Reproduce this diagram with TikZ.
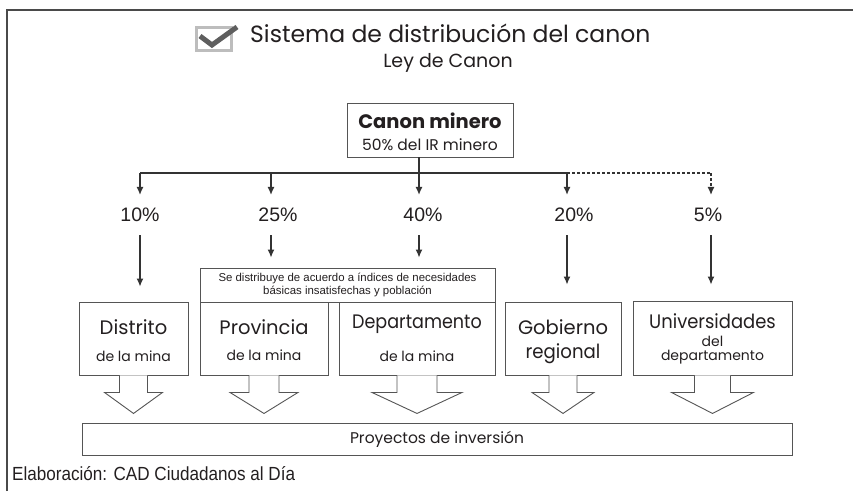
\documentclass[tikz,border=0pt]{standalone}
\usepackage{fontspec}
\setmainfont{Poppins}
\newfontfamily\geo{Poppins}
\newfontfamily\hel{Liberation Sans}
\newfontfamily\condf[FakeStretch=0.9]{Liberation Sans}
\usetikzlibrary{arrows.meta}
\definecolor{txt}{HTML}{231F20}
\definecolor{linec}{HTML}{555555}
\definecolor{framec}{HTML}{4A4A4A}
\definecolor{arrc}{HTML}{333333}
\definecolor{chkbox}{HTML}{BDBDBD}
\definecolor{chkmark}{HTML}{5E5E5E}
\newcommand\blockarr[3]{\draw[blk] ([xshift=-#2pt]#1.south) -- ++(0,17) -- ++(#2-#3,0) -- ++(#3,21) -- ++(#3,-21) -- ++(#2-#3,0) -- ++(0,-17);}
\begin{document}
\begin{tikzpicture}[x=1pt,y=-1pt,
  box/.style={draw=linec, line width=0.9pt, fill=white, inner sep=0pt},
  ln/.style={draw=arrc, line width=1.1pt},
  arr/.style={draw=arrc, line width=1.3pt, -{Latex[length=8pt,width=7pt]}},
  blk/.style={draw=linec, line width=0.9pt, fill=white},
  pct/.style={font=\hel\fontsize{19.5}{22}\selectfont, text=txt, inner sep=0pt},
  big/.style={font=\geo\fontsize{19.5}{22}\selectfont, text=txt, inner sep=0pt},
  small/.style={font=\geo\fontsize{14}{16}\selectfont, text=txt, inner sep=0pt},
  every node/.append style={text=txt}
]
\useasboundingbox (0,0) rectangle (853,491);
\fill[white] (0,0) rectangle (853,491);
% frame
\draw[draw=framec, line width=2pt] (7,491) -- (7,10) -- (853,10);
% checkbox icon
\draw[draw=chkbox, line width=3.5pt] (196.5,27.5) rectangle (231.5,50.5);
\draw[draw=chkmark, line width=5pt, line join=miter] (200,36) -- (212,45) -- (237,27);
% title
\node[font=\geo\fontsize{23.5}{27}\selectfont, anchor=west, inner sep=0pt] (title) at (250,33) {Sistema de distribución del canon};
\node[font=\geo\fontsize{19}{22}\selectfont, inner sep=0pt] (ley) at (448,63) {Ley de Canon};
% canon minero
\node[box, minimum width=166pt, minimum height=54pt] (canon) at (430,130) {};
\node[font=\geo\bfseries\fontsize{19.5}{22}\selectfont, inner sep=0pt] (canonT) at (430,121) {Canon minero};
\node[font=\geo\fontsize{15.5}{18}\selectfont, inner sep=0pt] (canonS) at (430,145) {50\% del IR minero};
% bus
\coordinate (b1) at (140,173);
\coordinate (b2) at (271,173);
\coordinate (b3) at (419,173);
\coordinate (b4) at (567,173);
\coordinate (b5) at (711,173);
\draw[ln] ([xshift=-11pt]canon.south) -- (b3);
\draw[ln] (b1) -- (b4);
\draw[ln, dashed, dash pattern=on 3pt off 2pt] (b4) -- (b5);
% percentages
\node[pct] (p10) at (140,215) {10\%};
\node[pct] (p25) at (278,215) {25\%};
\node[pct] (p40) at (423,215) {40\%};
\node[pct] (p20) at (574,215) {20\%};
\node[pct] (p5) at (708,215) {5\%};
% boxes
\node[box, minimum width=295pt, minimum height=34pt, align=center, font=\hel\fontsize{11.4}{13.5}\selectfont] (sed) at (347.5,285) {Se distribuye de acuerdo a índices de necesidades\\básicas insatisfechas y población};
\node[box, minimum width=109pt, minimum height=73pt] (dis) at (133.5,338.5) {};
\node[box, minimum width=128pt, minimum height=73pt] (pro) at (264,338.5) {};
\node[box, minimum width=156pt, minimum height=73pt] (dep) at (417,338.5) {};
\node[box, minimum width=116pt, minimum height=73pt] (gob) at (563,338.5) {};
\node[box, minimum width=159pt, minimum height=74pt] (uni) at (712.5,338) {};
% top arrows
\draw[arr, shorten >=13pt] (b1) -- (b1 |- p10.north);
\draw[arr, shorten >=13pt] (b2) -- (b2 |- p25.north);
\draw[arr, shorten >=13pt] (b3) -- (b3 |- p40.north);
\draw[arr, shorten >=13pt] (b4) -- (b4 |- p20.north);
\draw[arr, shorten >=13pt, dash pattern=on 3pt off 2pt] (b5) -- (b5 |- p5.north);
% lower arrows
\draw[arr, shorten <=13pt, shorten >=15pt] (b1 |- p10.south) -- (b1 |- dis.north);
\draw[arr, shorten <=13pt, shorten >=10pt] (b2 |- p25.south) -- (b2 |- sed.north);
\draw[arr, shorten <=13pt, shorten >=10pt] (b3 |- p40.south) -- (b3 |- sed.north);
\draw[arr, shorten <=13pt, shorten >=17pt] (b4 |- p20.south) -- (b4 |- gob.north);
\draw[arr, shorten <=13pt, shorten >=16pt] (b5 |- p5.south) -- (b5 |- uni.north);
% box texts
\node[big] (disA) at (133.5,327) {Distrito};
\node[small] (disB) at (133.5,356) {de la mina};
\node[big] (proA) at (264,327) {Provincia};
\node[small] (proB) at (264,355) {de la mina};
\node[big] (depA) at (417,324) {\scalebox{0.9}[1]{Departamento}};
\node[small] (depB) at (417,356) {de la mina};
\node[big] (gobA) at (563,327) {Gobierno};
\node[big] (gobB) at (563,354) {\scalebox{0.93}[1]{regional}};
\node[big] (uniA) at (712.5,321) {\scalebox{0.92}[1]{Universidades}};
\node[small] (uniB) at (712.5,341) {del};
\node[small] (uniC) at (712.5,357) {departamento};
% block arrows
\blockarr{dis}{14}{29}
\blockarr{pro}{15}{34}
\blockarr{dep}{20}{45}
\blockarr{gob}{14}{31}
\blockarr{uni}{18}{41}
% proyectos
\node[box, minimum width=710pt, minimum height=32pt, font=\geo\fontsize{15.5}{18}\selectfont] (proy) at (437,439) {Proyectos de inversión};
% footer
\node[font=\condf\fontsize{19}{22}\selectfont, anchor=west, inner sep=0pt] (foot) at (12,474) {Elaboración: CAD Ciudadanos al Día};
\end{tikzpicture}
\end{document}
